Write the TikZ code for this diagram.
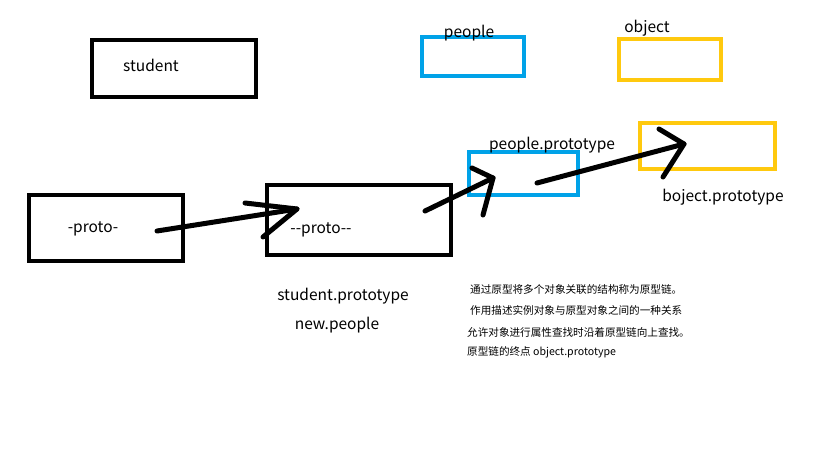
\documentclass[tikz,border=0pt]{standalone}
\usepackage{fontspec}
\setmainfont{Noto Sans CJK SC}
\definecolor{paintblue}{HTML}{00A2E8}
\definecolor{paintyellow}{HTML}{FFC90E}
\tikzset{
  box/.style={draw,line width=4pt,inner sep=0pt,minimum width=#1},
  lbl/.style={inner sep=0pt,font=\fontsize{15.5}{16}\selectfont},
  note/.style={inner sep=0pt,anchor=west,font=\fontsize{10.6}{12}\selectfont},
  pen/.style={line width=5pt,line cap=round,line join=round}
}

\begin{document}
\begin{tikzpicture}[x=1pt,y=-1pt]
  \useasboundingbox (0,0) rectangle (819,460);
  % boxes
  \node[box=164pt,minimum height=57pt] (student) at (174,68.5) {};
  \node[box=102pt,minimum height=39pt,paintblue] (people) at (473,56.5) {};
  \node[box=102pt,minimum height=41pt,paintyellow] (object) at (670,59.5) {};
  \node[box=135pt,minimum height=46pt,paintyellow] (objproto) at (707.5,146) {};
  \node[box=109pt,minimum height=43pt,paintblue] (peopleproto) at (523.5,173.5) {};
  \node[box=154pt,minimum height=66pt] (proto) at (106,228) {};
  \node[box=184pt,minimum height=70pt] (stuproto) at (359,220) {};
  % labels
  \node[lbl] (studenttxt) at (151,65) {student};
  \node[lbl] (peopletxt) at (469,33) {people};
  \node[lbl] (objecttxt) at (647,28) {object};
  \node[lbl] (peopleprototxt) at (552,145) {people.prototype};
  \node[lbl] (objprototxt) at (723,197) {boject.prototype};
  \node[lbl] (prototxt) at (93,229) {-proto-};
  \node[lbl] (stuprototxt) at (321,230) {-{}-proto-{}-};
  \node[lbl] (stuname) at (343,296) {student.prototype};
  \node[lbl] (newpeople) at (337,325) {new.people};
  % notes
  \node[note] (note1) at (470,289) {通过原型将多个对象关联的结构称为原型链。};
  \node[note] (note2) at (470,310) {作用描述实例对象与原型对象之间的一种关系};
  \node[note] (note3) at (467,332) {允许对象进行属性查找时沿着原型链向上查找。};
  \node[note] (note4) at (467,352) {原型链的终点 object.prototype};
  % hand drawn arrows
  \coordinate (a1) at (157,231);
  \coordinate (b1) at (297,209);
  \coordinate (a2) at (425,211);
  \coordinate (b2) at (493,178);
  \coordinate (a3) at (537,183);
  \coordinate (b3) at (684,144);
  \draw[pen] (a1) -- (b1);
  \draw[pen] (b1) ++(-52,-6) -- (b1) -- ++(-34,28);
  \draw[pen] (a2) -- (b2);
  \draw[pen] (b2) ++(-21,-10) -- (b2) -- ++(-10,37);
  \draw[pen] (a3) -- (b3);
  \draw[pen] (b3) ++(-25,-15) -- (b3) -- ++(-21,33);
\end{tikzpicture}
\end{document}
